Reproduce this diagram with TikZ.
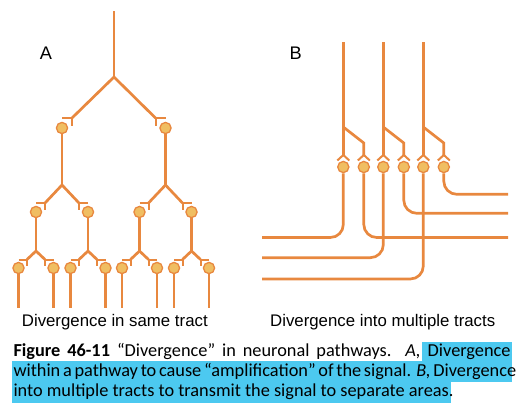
\documentclass[tikz,border=0pt]{standalone}
\usepackage{fontspec}
\setmainfont{Liberation Sans}
\newfontfamily\capfont{Carlito}
\definecolor{orng}{HTML}{E8883F}
\definecolor{somafill}{HTML}{F0BE62}
\definecolor{hl}{HTML}{4CC9F0}
\newcommand\mysyn[6]{%
  \node[soma] (#1) at (#2,#3) {};
  \coordinate (#1p) at ({#2-(#4)*#5},{#3-#5});
  \draw[axon] (#6) -- (#1p);
  \draw[term] (#2,{#3-#5}) -- (#1p) -- ({#2-(#4)*#5},{#3-2});
}
\newcommand\mybsyn[2]{%
  \node[soma] (#1) at (#2,167) {};
  \coordinate (#1ap) at (#2,155);
  \draw[term] ({#2-6},160.5) -- (#1ap) -- ({#2+6},160.5);
}
\begin{document}
\begin{tikzpicture}[x=1pt,y=-1pt,
  axon/.style={draw=orng,line width=2.7pt},
  term/.style={draw=orng,line width=2pt},
  soma/.style={circle,draw=orng,fill=somafill,line width=1.3pt,inner sep=0pt,minimum size=11.2pt},
  lab/.style={inner sep=0pt,font=\fontsize{18.2}{20}\selectfont},
  sub/.style={inner sep=0pt,font=\fontsize{16.8}{20}\selectfont},
  capline/.style={inner sep=0pt,anchor=base west,font=\capfont\fontsize{18.3}{20}\selectfont}]
\useasboundingbox (0,0) rectangle (521,408);

% ---------- A ----------
\node[lab] (labA) at (46,53) {A};
\coordinate (a0) at (114,11);
\coordinate (b0) at (114,77);
\draw[axon] (a0) -- (b0);
\mysyn{c1}{62}{128}{-1}{10}{b0}
\mysyn{c2}{165.5}{128}{1}{10}{b0}
% level 2
\coordinate (b1) at (62,185);
\coordinate (b2) at (165.5,185);
\draw[axon] (c1) -- (b1);
\draw[axon] (c2) -- (b2);
\mysyn{c11}{36}{212}{-1}{9}{b1}
\mysyn{c12}{88}{212}{1}{9}{b1}
\mysyn{c21}{139.5}{212}{-1}{9}{b2}
\mysyn{c22}{191.5}{212}{1}{9}{b2}
% level 3
\foreach \n/\x in {c11/36,c12/88,c21/139.5,c22/191.5}{
  \coordinate (\n b) at (\x,251);
  \draw[axon] (\n) -- (\n b);
  \mysyn{\n a}{\x-17.5}{268}{-1}{8.5}{\n b}
  \mysyn{\n c}{\x+17.5}{268}{1}{8.5}{\n b}
  \coordinate (\n ae) at (\x-17.5,308);
  \coordinate (\n ce) at (\x+17.5,308);
  \draw[axon] (\n a) -- (\n ae);
  \draw[axon] (\n c) -- (\n ce);
}
\node[sub] (subA) at (114.8,321.7) {Divergence in same tract};

% ---------- B ----------
\node[lab] (labB) at (295.7,53) {B};
\mybsyn{s1}{343.3}
\mybsyn{s2}{363.8}
\mybsyn{s3}{383.3}
\mybsyn{s4}{403.8}
\mybsyn{s5}{423.3}
\mybsyn{s6}{443.8}
\foreach \i/\j/\x in {1/2/343.3,3/4/383.3,5/6/423.3}{
  \coordinate (bt\i) at (\x,42);
  \coordinate (bb\i) at (\x,127);
  \coordinate (bk\i) at (\x+20.5,143);
  \draw[axon] (bt\i) -- (s\i ap);
  \draw[axon] (bb\i) -- (bk\i) -- (s\j ap);
}
\coordinate (e1) at (262,237.5);
\coordinate (e2) at (508,237.5);
\coordinate (e3) at (262,257.7);
\coordinate (e4) at (508,213.3);
\coordinate (e5) at (262,279);
\coordinate (e6) at (508,194.3);
\foreach \i in {1,...,6}{
  \draw[axon,rounded corners=13pt] (s\i) |- (e\i);
}
\node[sub] (subB) at (382.7,321.7) {Divergence into multiple tracts};

% ---------- caption ----------
\fill[hl] (421.7,341.5) rectangle (511.7,360.5);
\fill[hl] (12.3,360.5) rectangle (511.7,381.5);
\fill[hl] (12.3,381.5) rectangle (450.5,402.5);
\node[capline] (cap1) at (13.3,356.5) {\makebox[497pt][s]{\textbf{Figure 46-11} “Divergence” in neuronal pathways. \textit{A,} Divergence}};
\node[capline] (cap2) at (13.3,376.8) {\makebox[497pt][s]{within a pathway to cause “amplification” of the signal. \textit{B,} Divergence}};
\node[capline] (cap3) at (13.3,396.6) {into multiple tracts to transmit the signal to separate areas.};
\end{tikzpicture}
\end{document}
